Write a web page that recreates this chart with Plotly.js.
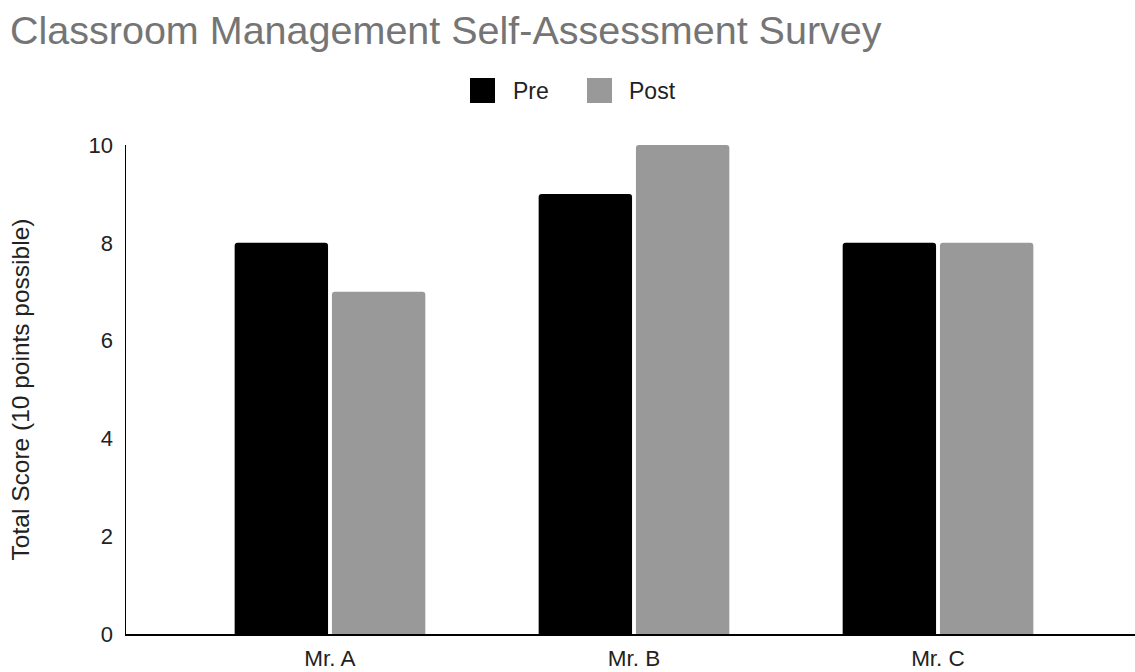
<!DOCTYPE html>
<html>
<head>
<meta charset="utf-8">
<script src="https://cdn.plot.ly/plotly-3.0.1.min.js"></script>
<style>
  html, body { margin: 0; padding: 0; background: #fff; }
  #chart { width: 1135px; height: 672px; }
</style>
</head>
<body>
<div id="chart"></div>
<script>
// Survey totals per teacher, before and after
const teachers = ['Mr. A', 'Mr. B', 'Mr. C'];
const preScores = [8, 9, 8];
const postScores = [7, 10, 8];
const seriesNames = ['Pre', 'Post'];
const seriesColors = ['#000000', '#999999'];
const yTicks = [0, 2, 4, 6, 8, 10];

const font = 'Arial, "Liberation Sans", sans-serif';
const W = 1135, H = 672;
const M = { l: 126, r: 0, t: 145, b: 38 };
const plotW = W - M.l - M.r, plotH = H - M.t - M.b;
// pixel position -> paper fraction, for the legend swatches
const px = v => (v - M.l) / plotW;
const py = v => (H - M.b - v) / plotH;

const traces = [preScores, postScores].map((vals, i) => ({
  type: 'bar', name: seriesNames[i], x: teachers, y: vals,
  marker: { color: seriesColors[i], line: { width: 0 } },
  showlegend: false
}));

// Legend: large squares with labels, centred above the plot
const legendItems = [
  { sw: 470, tx: 511 },
  { sw: 587, tx: 627 }
];
const shapes = legendItems.map((it, i) => ({
  type: 'rect', xref: 'paper', yref: 'paper',
  x0: px(it.sw), x1: px(it.sw + 25), y0: py(103), y1: py(78),
  fillcolor: seriesColors[i], line: { width: 0 }, layer: 'above'
}));
const annotations = legendItems.map((it, i) => ({
  xref: 'paper', yref: 'paper', x: px(it.tx), y: py(91),
  xanchor: 'left', yanchor: 'middle', showarrow: false,
  text: seriesNames[i],
  font: { family: font, size: 23, color: '#222222' }
}));

const layout = {
  width: W, height: H,
  paper_bgcolor: '#ffffff', plot_bgcolor: '#ffffff',
  font: { family: font, color: '#222222', size: 22 },
  margin: M,
  title: {
    text: 'Classroom Management Self-Assessment Survey',
    x: 10 / W, xanchor: 'left', xref: 'container',
    y: 1 - 30 / H, yanchor: 'middle', yref: 'container',
    font: { family: font, size: 39.5, color: '#757575' }
  },
  showlegend: false,
  barmode: 'group',
  bargap: 0.36,
  bargroupgap: 0.04,
  barcornerradius: 3,
  xaxis: {
    type: 'category',
    range: [-0.671, 2.648],
    showgrid: false, zeroline: false,
    showline: true, linecolor: '#000000', linewidth: 1.5,
    ticks: '', ticklabelstandoff: 3,
    tickfont: { family: font, size: 22.5, color: '#222222' },
    fixedrange: true
  },
  yaxis: {
    range: [0, 10],
    tickvals: yTicks, ticktext: yTicks.map(String),
    showgrid: false, zeroline: false,
    showline: true, linecolor: '#000000', linewidth: 1.5,
    ticks: '', ticklabelstandoff: 7,
    tickfont: { family: font, size: 22, color: '#222222' },
    title: { text: 'Total Score (10 points possible)', standoff: 52,
             font: { family: font, size: 24.5, color: '#222222' } },
    fixedrange: true
  },
  shapes: shapes,
  annotations: annotations
};

Plotly.newPlot('chart', traces, layout, { displayModeBar: false, staticPlot: true });
</script>
</body>
</html>
